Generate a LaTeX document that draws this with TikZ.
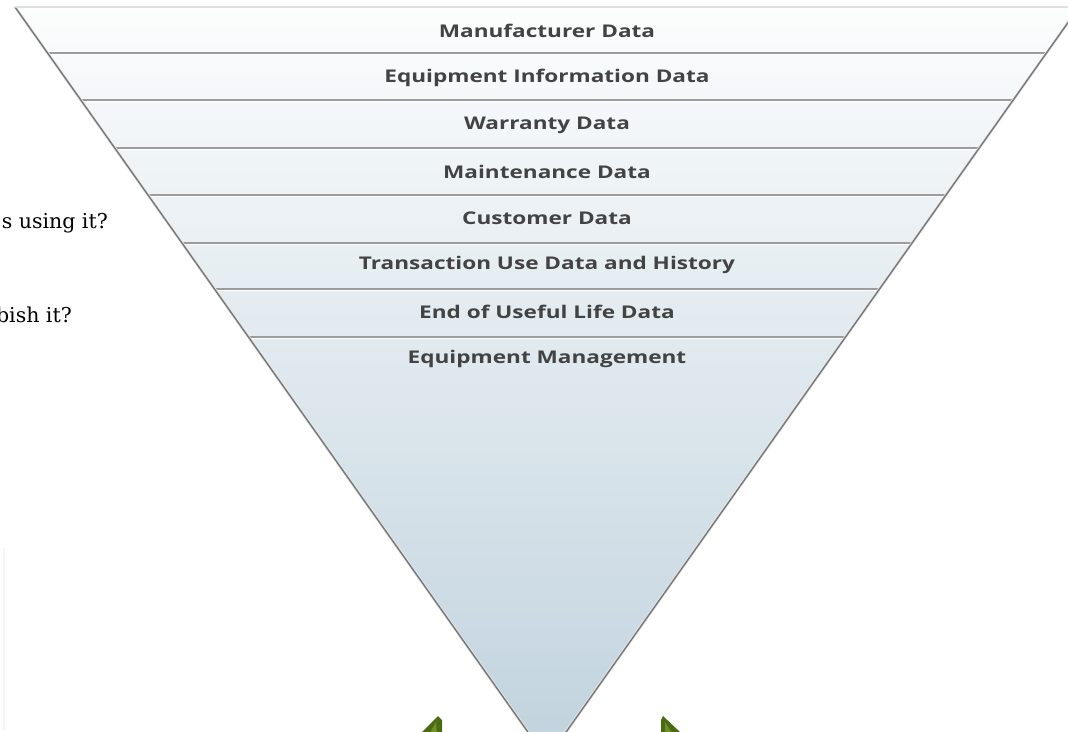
\documentclass[tikz,border=0pt]{standalone}
\usepackage{fontspec}
\newfontfamily\lblfont{Open Sans}
\newfontfamily\sidefont{DejaVu Serif}
\usepackage{graphicx}
\definecolor{edgegrey}{HTML}{7A7A7A}
\definecolor{sepgrey}{HTML}{9C9C9C}
\definecolor{lbltext}{HTML}{434343}
\definecolor{topfill}{HTML}{FCFDFD}
\definecolor{botfill}{HTML}{C0D2DE}
\definecolor{arrowgreen}{HTML}{4B6B12}
\definecolor{arrowlight}{HTML}{6E8F2A}
\definecolor{faint}{HTML}{F6F6F6}
\tikzset{
  band/.style={font=\lblfont\bfseries\fontsize{17.5}{20}\selectfont, text=lbltext, inner sep=0pt, anchor=center},
  sepline/.style={draw=sepgrey, line width=1.3pt},
  sephl/.style={draw=white, line width=1.2pt},
  side/.style={font=\sidefont\fontsize{20.5}{24}\selectfont, text=black, inner sep=0pt, anchor=base east},
  greentip/.style={fill=arrowgreen},
}
\newcommand\widelbl[1]{\scalebox{1.29}[1]{#1}}
\begin{document}
\begin{tikzpicture}[x=1pt,y=-1pt]
\useasboundingbox (0,0) rectangle (1068,731);
\clip (0,0) rectangle (1068,731);
% corners of the inverted triangle
\coordinate (tl) at (15,7);
\coordinate (tr) at (1079,7);
\coordinate (apex) at (547,759);
% faint remnant at the left border
\draw[faint, line width=1.2pt] (4,548) -- (4,731);
% body with gradient
\shade[top color=topfill, bottom color=botfill] (tl) -- (tr) -- (apex) -- cycle;
% separators
\foreach \y in {53,100,148,195,243,289,337}{
  \pgfmathsetmacro{\hw}{0.7075*(759-\y)}
  \draw[sephl] ({547-\hw+1.5},\y+1.4) -- ({547+\hw-1.5},\y+1.4);
  \draw[sepline] ({547-\hw},\y) -- ({547+\hw},\y);
}
% outline
\draw[draw=white!85!gray, line width=3pt, line join=miter] (tl) -- (apex) -- (tr);
\draw[draw=edgegrey, line width=1.5pt, line join=miter] (tl) -- (apex) -- (tr);
\draw[draw=white!75!gray, line width=2pt] (tl) -- (tr);
% labels
\node[band] (l1) at (547,31) {\widelbl{Manufacturer Data}};
\node[band] (l2) at (547,78) {\widelbl{Equipment Information Data}};
\node[band] (l3) at (547,125) {\widelbl{Warranty Data}};
\node[band] (l4) at (547,172) {\widelbl{Maintenance Data}};
\node[band] (l5) at (547,218) {\widelbl{Customer Data}};
\node[band] (l6) at (547,265) {\widelbl{Transaction Use Data and History}};
\node[band] (l7) at (547,312) {\widelbl{End of Useful Life Data}};
\node[band] (l8) at (547,359) {\widelbl{Equipment Management}};
% cut-off side texts
\node[side] (q1) at (108,228) {s using it?};
\node[side] (q2) at (72,322) {bish it?};
% green arrow tips
\fill[greentip] (438,716) -- (421,733) -- (442,733) -- (442,720) -- cycle;
\fill[arrowlight] (436,722) -- (430,733) -- (437,733) -- cycle;
\fill[greentip] (663,716) -- (681,733) -- (661,733) -- (661,720) -- cycle;
\fill[arrowlight] (665,722) -- (672,733) -- (665,733) -- cycle;
\end{tikzpicture}
\end{document}
